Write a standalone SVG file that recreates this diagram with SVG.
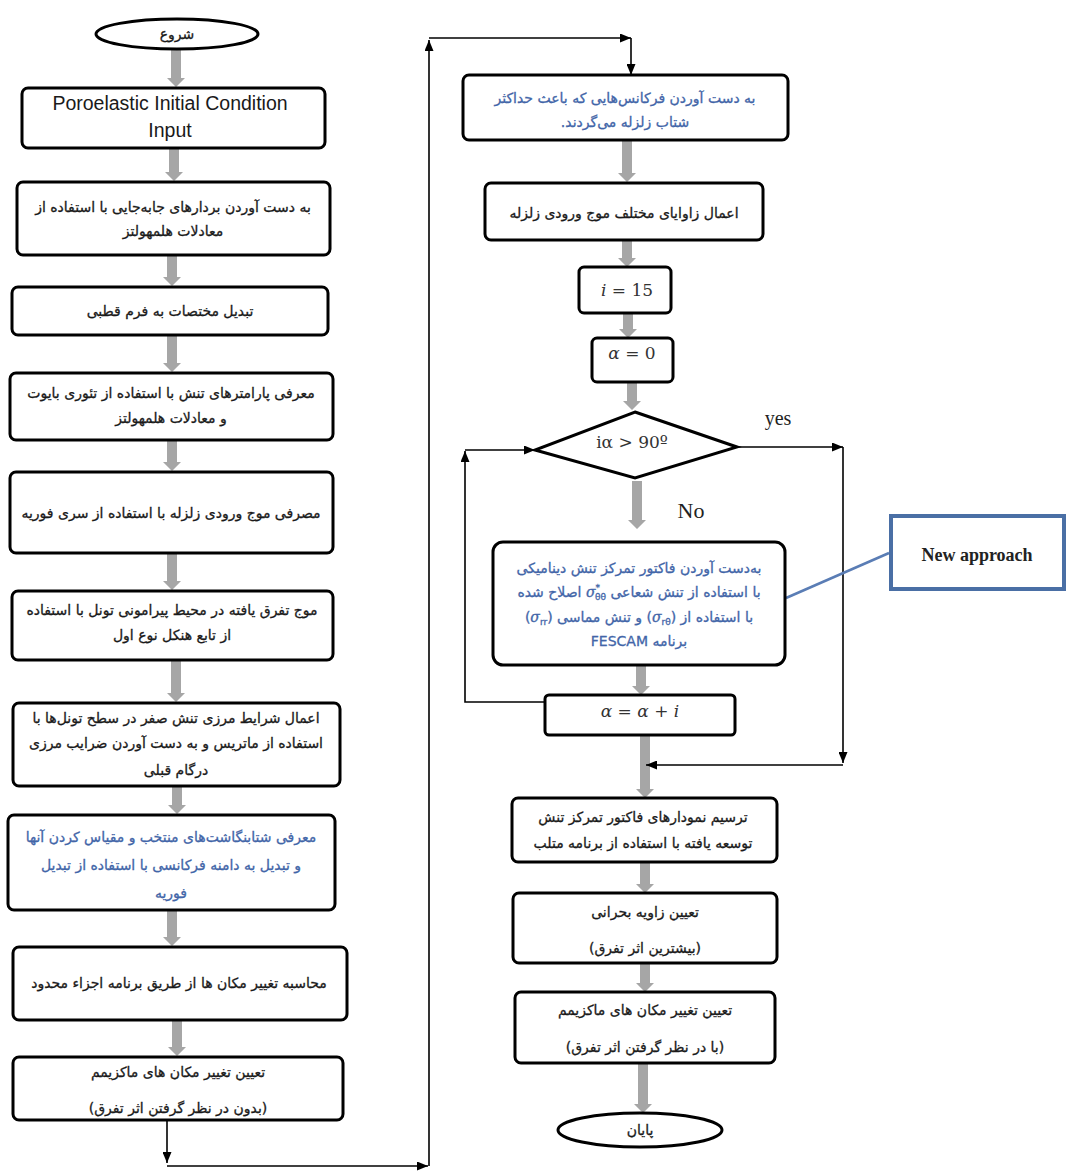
<svg xmlns="http://www.w3.org/2000/svg" width="1068" height="1171" viewBox="0 0 1068 1171">
<style>
.bx{fill:#fff;stroke:#000;stroke-width:3}
.ga{fill:#a6a6a6}
.ln{fill:none;stroke:#000;stroke-width:1.6}
.fa{font-family:"DejaVu Sans",sans-serif;font-size:14px;fill:#1a1a1a;stroke:#1a1a1a;stroke-width:0.3;text-anchor:middle}
.bl{fill:#4265a8;stroke:#4265a8}
.en{font-family:"Liberation Sans",Arial,sans-serif;font-size:19.5px;fill:#1a1a1a;text-anchor:middle}
.mt{font-family:"DejaVu Serif","Liberation Serif",serif;font-size:17px;fill:#333;text-anchor:middle}
.lb{font-family:"Liberation Serif",serif;fill:#222}
</style>
<defs>
<marker id="ah" markerUnits="userSpaceOnUse" markerWidth="11" markerHeight="9" refX="11" refY="4.5" orient="auto">
<path d="M0,0 L11,4.5 L0,9 Z" fill="#000"/>
</marker>
</defs>
<rect width="1068" height="1171" fill="#fff"/>

<g id="connectors">
<path class="ga" d="M171,48 H181 V78 H185 L176,87 L167,78 H171 Z"/>
<path class="ga" d="M169,149 H179 V172 H183 L174,181 L165,172 H169 Z"/>
<path class="ga" d="M167,256 H177 V277 H181 L172,286 L163,277 H167 Z"/>
<path class="ga" d="M167,336 H177 V363 H181 L172,372 L163,363 H167 Z"/>
<path class="ga" d="M167,441 H177 V462 H181 L172,471 L163,462 H167 Z"/>
<path class="ga" d="M167,554 H177 V581 H181 L172,590 L163,581 H167 Z"/>
<path class="ga" d="M171,661 H181 V693 H185 L176,702 L167,693 H171 Z"/>
<path class="ga" d="M172,787 H182 V805 H186 L177,814 L168,805 H172 Z"/>
<path class="ga" d="M167,911 H177 V937 H181 L172,946 L163,937 H167 Z"/>
<path class="ga" d="M172,1021 H182 V1047 H186 L177,1056 L168,1047 H172 Z"/>

<path class="ga" d="M622,141 H632 V173 H636 L627,182 L618,173 H622 Z"/>
<path class="ga" d="M622,241 H632 V258 H636 L627,267 L618,258 H622 Z"/>
<path class="ga" d="M623,314 H633 V329 H637 L628,338 L619,329 H623 Z"/>
<path class="ga" d="M627,383 H637 V401 H641 L632,410 L623,401 H627 Z"/>
<path class="ga" d="M632,481 H642 V520 H646 L637,529 L628,520 H632 Z"/>
<path class="ga" d="M636,666 H646 V686 H650 L641,695 L632,686 H636 Z"/>
<path class="ga" d="M640,736 H650 V789 H654 L645,798 L636,789 H640 Z"/>
<path class="ga" d="M640,863 H650 V884 H654 L645,893 L636,884 H640 Z"/>
<path class="ga" d="M640,964 H650 V983 H654 L645,992 L636,983 H640 Z"/>
<path class="ga" d="M638,1064 H648 V1104 H652 L643,1113 L634,1104 H638 Z"/>

<path class="ln" d="M167,1121 V1163" marker-end="url(#ah)"/>
<path class="ln" d="M167,1166 H428" marker-end="url(#ah)"/>
<path class="ln" d="M429,1166 V40" marker-end="url(#ah)"/>
<path class="ln" d="M429,38 H631" marker-end="url(#ah)"/>
<path class="ln" d="M631,38 V75" marker-end="url(#ah)"/>

<path class="ln" d="M737,447 H843" marker-end="url(#ah)"/>
<path class="ln" d="M843,447 V763" marker-end="url(#ah)"/>
<path class="ln" d="M843,765 H646" marker-end="url(#ah)"/>

<path class="ln" d="M545,702 H465 V451" marker-end="url(#ah)"/>
<path class="ln" d="M465,450 H535" marker-end="url(#ah)"/>

<line x1="786" y1="598" x2="889" y2="553" stroke="#5a7db5" stroke-width="2.5"/>
</g>

<g id="n-start"><ellipse cx="177" cy="34" rx="81" ry="15" class="bx"/><text class="fa" x="177" y="39" direction="rtl">شروع</text></g>

<g id="n-1"><rect class="bx" x="22" y="88" width="303" height="60" rx="6"/>
<text class="en" x="170" y="110">Poroelastic Initial Condition</text>
<text class="en" x="170" y="137">Input</text></g>

<g id="n-2"><rect class="bx" x="17" y="182" width="313" height="73" rx="6"/>
<text class="fa" x="173" y="212" direction="rtl">به دست آوردن بردارهای جابه‌جایی با استفاده از</text>
<text class="fa" x="173" y="236" direction="rtl">معادلات هلمهولتز</text></g>

<g id="n-3"><rect class="bx" x="12" y="287" width="316" height="48" rx="6"/>
<text class="fa" x="170" y="316" direction="rtl">تبدیل مختصات به فرم قطبی</text></g>

<g id="n-4"><rect class="bx" x="10" y="373" width="323" height="67" rx="6"/>
<text class="fa" x="171" y="398" direction="rtl">معرفی پارامترهای تنش با استفاده از تئوری بایوت</text>
<text class="fa" x="171" y="423" direction="rtl">و معادلات هلمهولتز</text></g>

<g id="n-5"><rect class="bx" x="10" y="472" width="323" height="81" rx="6"/>
<text class="fa" x="171" y="518" direction="rtl">مصرفی موج ورودی زلزله با استفاده از سری فوریه</text></g>

<g id="n-6"><rect class="bx" x="12" y="591" width="321" height="69" rx="6"/>
<text class="fa" x="172" y="615" direction="rtl">موج تفرق یافته در محیط پیرامونی تونل با استفاده</text>
<text class="fa" x="172" y="640" direction="rtl">از تابع هنکل نوع اول</text></g>

<g id="n-7"><rect class="bx" x="13" y="703" width="327" height="83" rx="6"/>
<text class="fa" x="176" y="723" direction="rtl">اعمال شرایط مرزی تنش صفر در سطح تونل‌ها با</text>
<text class="fa" x="176" y="748" direction="rtl">استفاده از ماتریس و به دست آوردن ضرایب مرزی</text>
<text class="fa" x="176" y="775" direction="rtl">درگام قبلی</text></g>

<g id="n-8"><rect class="bx" x="8" y="815" width="327" height="95" rx="6"/>
<text class="fa bl" x="171" y="842" direction="rtl">معرفی شتابنگاشت‌های منتخب و مقیاس کردن آنها</text>
<text class="fa bl" x="171" y="870" direction="rtl">و تبدیل به دامنه فرکانسی با استفاده از تبدیل</text>
<text class="fa bl" x="171" y="898" direction="rtl">فوریه</text></g>

<g id="n-9"><rect class="bx" x="13" y="947" width="334" height="73" rx="6"/>
<text class="fa" x="179" y="988" direction="rtl">محاسبه تغییر مکان ها از طریق برنامه اجزاء محدود</text></g>

<g id="n-10"><rect class="bx" x="13" y="1057" width="330" height="63" rx="6"/>
<text class="fa" x="178" y="1077" direction="rtl">تعیین تغییر مکان های ماکزیمم</text>
<text class="fa" x="178" y="1113" direction="rtl">(بدون در نظر گرفتن اثر تفرق)</text></g>

<g id="r-1"><rect class="bx" x="463" y="75" width="325" height="65" rx="6"/>
<text class="fa bl" x="625" y="103" direction="rtl">به دست آوردن فرکانس‌هایی که باعث حداکثر</text>
<text class="fa bl" x="625" y="127" direction="rtl">شتاب زلزله می‌گردند.</text></g>

<g id="r-2"><rect class="bx" x="485" y="183" width="278" height="57" rx="6"/>
<text class="fa" x="624" y="218" direction="rtl">اعمال زاوایای مختلف موج ورودی زلزله</text></g>

<g id="r-3"><rect class="bx" x="579" y="267" width="92" height="46" rx="5"/>
<text class="mt" x="627" y="296"><tspan font-style="italic">i</tspan> = 15</text></g>

<g id="r-4"><rect class="bx" x="592" y="338" width="81" height="44" rx="5"/>
<text class="mt" x="632" y="359"><tspan font-style="italic">α</tspan> = 0</text></g>

<g id="r-dec"><polygon class="bx" points="635,412 737,447 635,478 535,450"/>
<text class="mt" x="632" y="448" font-size="12.5">iα &gt; 90º</text></g>

<g id="r-5"><rect class="bx" x="493" y="542" width="292" height="123" rx="10"/>
<text class="fa bl" x="639" y="573" direction="rtl">به‌دست آوردن فاکتور تمرکز تنش دینامیکی</text>
<text class="fa bl" x="639" y="597" direction="ltr">اصلاح شده <tspan font-family="DejaVu Serif" font-style="italic">σ</tspan><tspan font-size="9" dy="-6">*</tspan><tspan font-size="9" dx="-5" dy="9">θθ</tspan><tspan dy="-3"> با استفاده از تنش شعاعی</tspan></text>
<text class="fa bl" x="639" y="622" direction="ltr">(<tspan font-family="DejaVu Serif" font-style="italic">σ</tspan><tspan font-size="9" dy="3">rr</tspan><tspan dy="-3">)  و تنش مماسی (</tspan><tspan font-family="DejaVu Serif" font-style="italic">σ</tspan><tspan font-size="9" dy="3">rθ</tspan><tspan dy="-3">)  با استفاده از</tspan></text>
<text class="fa bl" x="639" y="646" direction="rtl">برنامه FESCAM</text></g>

<g id="r-6"><rect class="bx" x="545" y="695" width="190" height="40" rx="4"/>
<text class="mt" x="640" y="717"><tspan font-style="italic">α</tspan> = <tspan font-style="italic">α</tspan> + <tspan font-style="italic">i</tspan></text></g>

<g id="r-7"><rect class="bx" x="512" y="798" width="265" height="64" rx="6"/>
<text class="fa" x="643" y="822" direction="rtl">ترسیم نمودارهای فاکتور تمرکز تنش</text>
<text class="fa" x="643" y="848" direction="rtl">توسعه یافته با استفاده از برنامه متلب</text></g>

<g id="r-8"><rect class="bx" x="513" y="893" width="264" height="70" rx="6"/>
<text class="fa" x="645" y="917" direction="rtl">تعیین زاویه بحرانی</text>
<text class="fa" x="645" y="953" direction="rtl">(بیشترین اثر تفرق)</text></g>

<g id="r-9"><rect class="bx" x="515" y="992" width="260" height="71" rx="6"/>
<text class="fa" x="645" y="1015" direction="rtl">تعیین تغییر مکان های ماکزیمم</text>
<text class="fa" x="645" y="1052" direction="rtl">(با در نظر گرفتن اثر تفرق)</text></g>

<g id="r-end"><ellipse cx="640" cy="1130" rx="82" ry="17" class="bx"/>
<text class="fa" x="640" y="1135" direction="rtl">پایان</text></g>

<g id="lbl-yes"><text class="lb" x="778" y="425" font-size="20" text-anchor="middle">yes</text></g>
<g id="lbl-no"><text class="lb" x="691" y="518" font-size="22" text-anchor="middle">No</text></g>

<g id="n-new"><rect x="891" y="516" width="173" height="73" fill="#fff" stroke="#4a6fa5" stroke-width="4"/>
<text class="lb" x="977" y="561" font-size="18" font-weight="bold" text-anchor="middle">New approach</text></g>
</svg>
